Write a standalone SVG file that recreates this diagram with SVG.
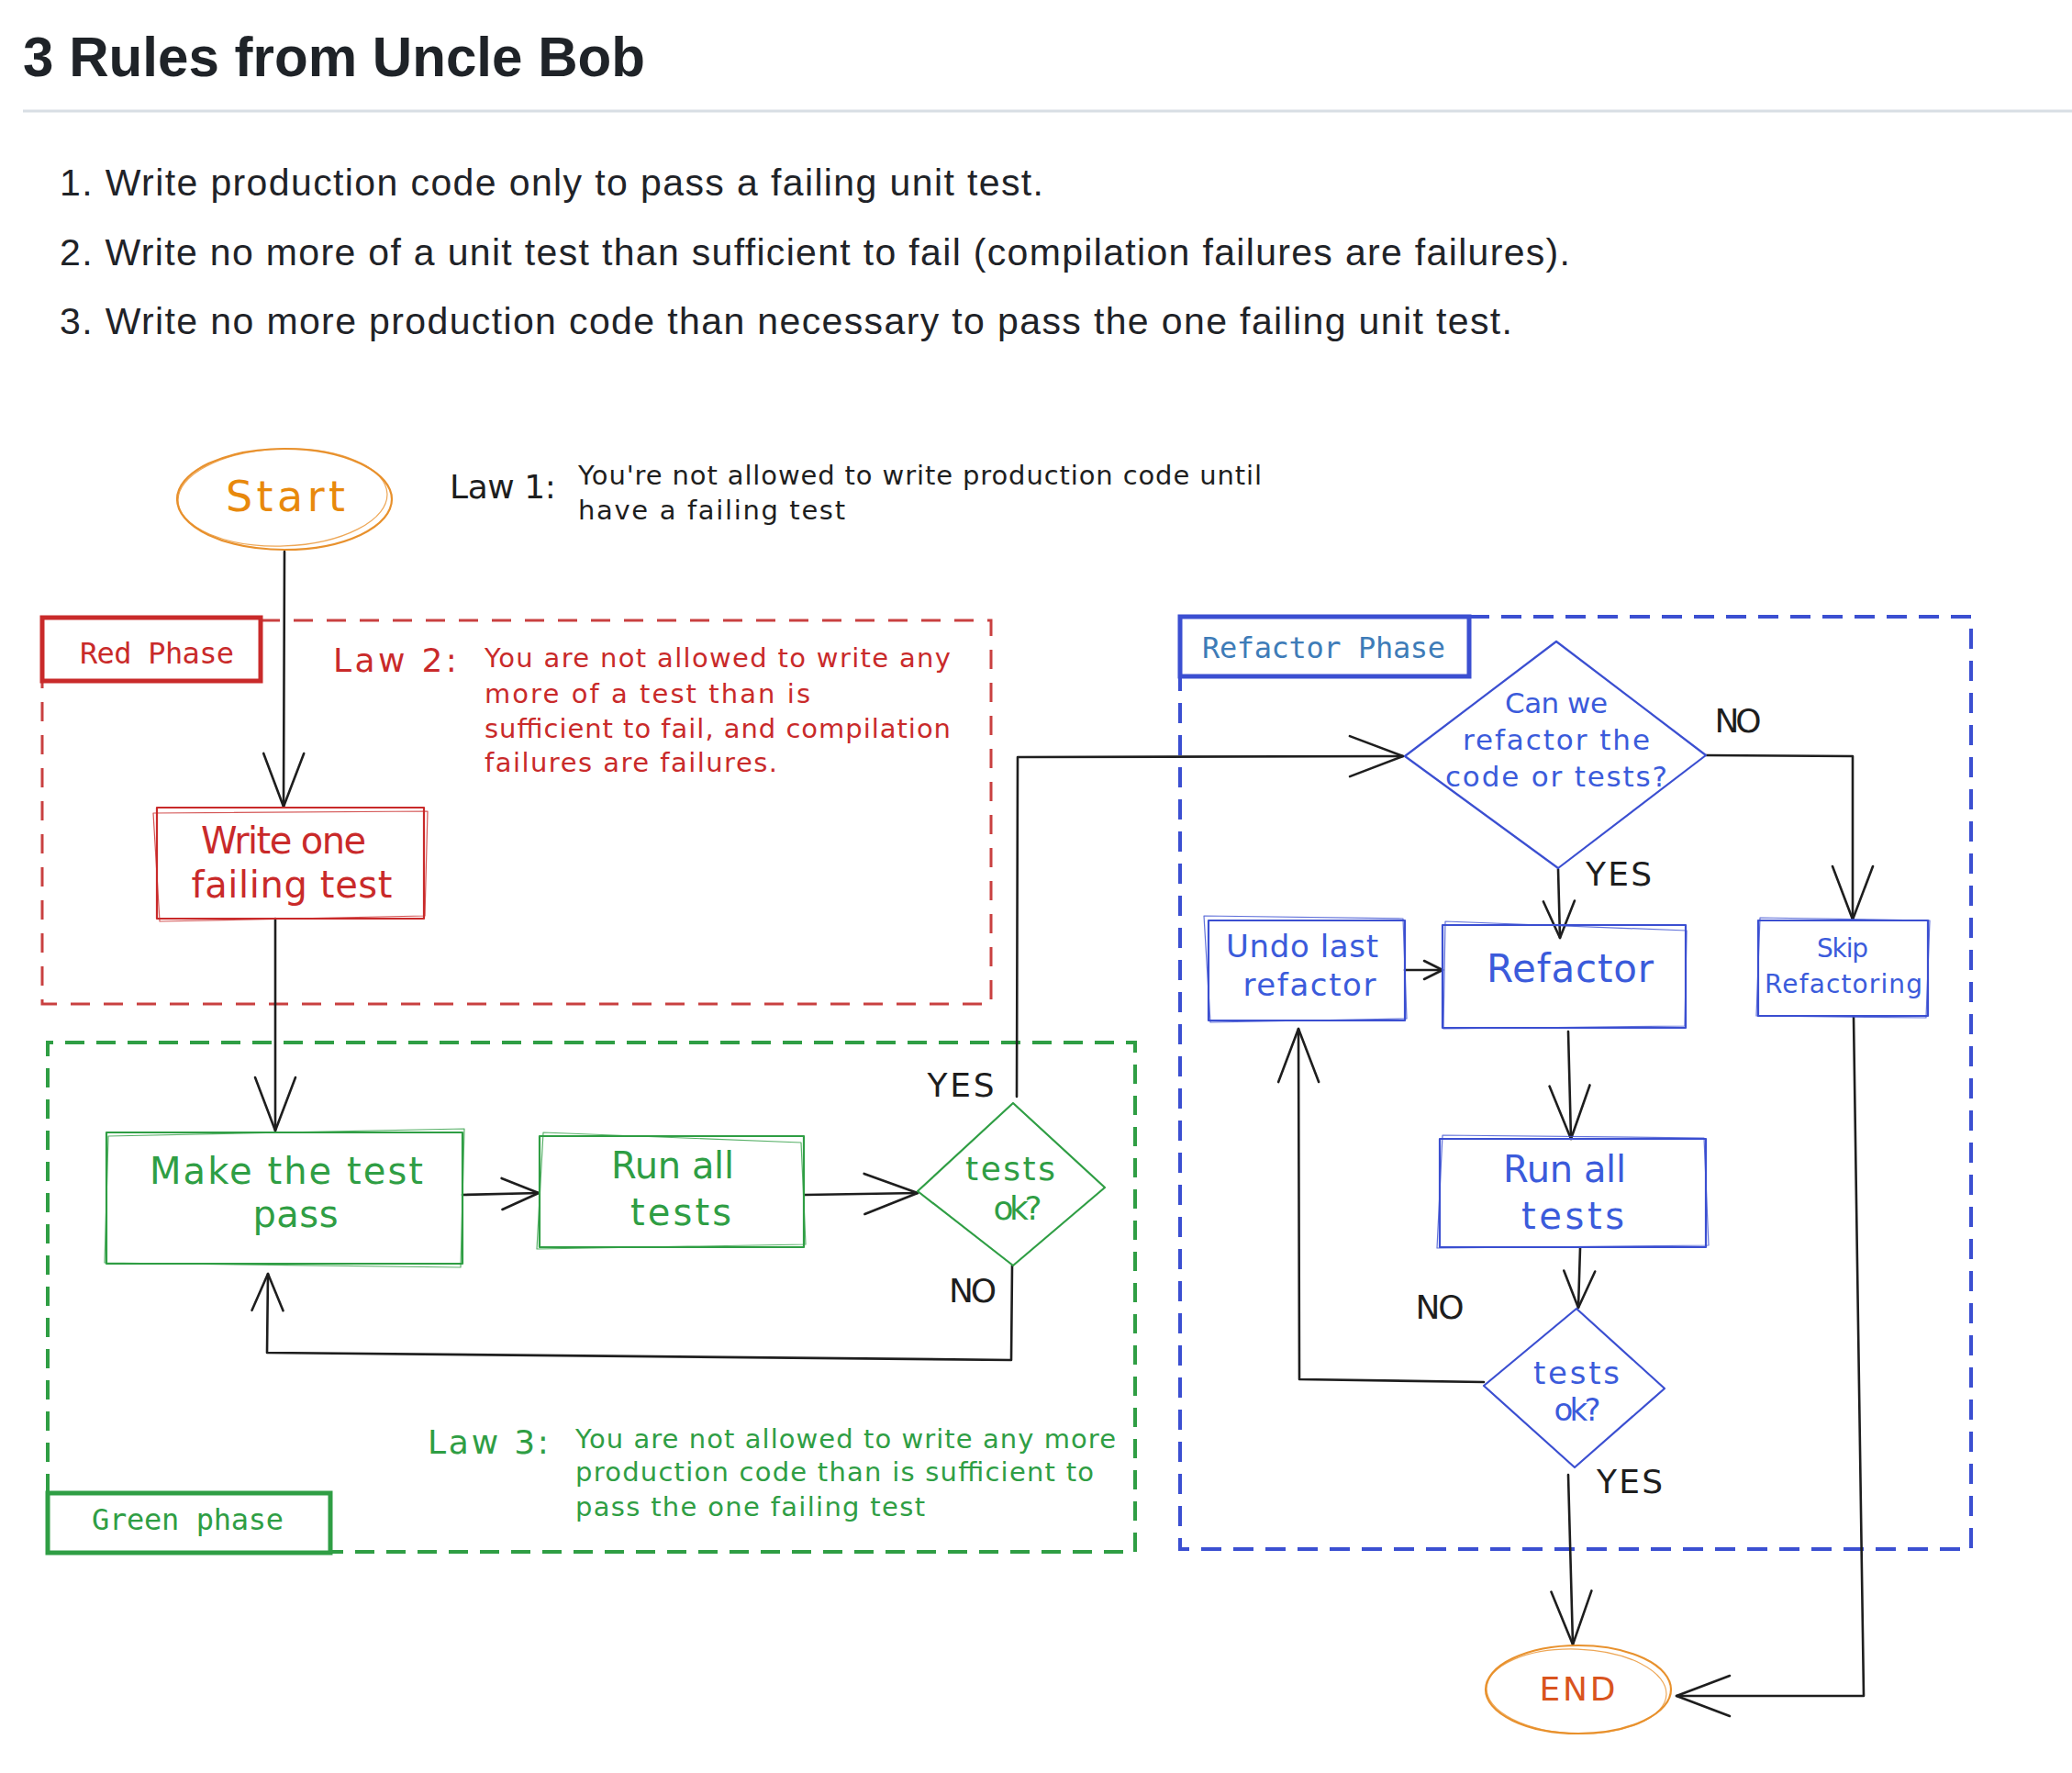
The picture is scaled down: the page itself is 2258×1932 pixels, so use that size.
<svg xmlns="http://www.w3.org/2000/svg" width="2258" height="1932" viewBox="0 0 2258 1932">
<style>
  .hand { font-family: "DejaVu Sans", "Noto Sans", sans-serif; }
  .mono { font-family: "DejaVu Sans Mono", "Liberation Mono", monospace; }
  .doc { font-family: "Liberation Sans", Arial, sans-serif; fill: #1f2328; }
  .ink { fill: #1e1e1e; }
  .red { fill: #c92a2a; }
  .green { fill: #2f9e44; }
  .blue { fill: #3b5bdb; }
  .steel { fill: #3e7cb8; }
  .mid { text-anchor: middle; }
  .sk-red { fill: none; stroke: #c92a2a; stroke-width: 2.2; stroke-linejoin: round; }
  .sk-green { fill: none; stroke: #2f9e44; stroke-width: 2.2; stroke-linejoin: round; }
  .sk-blue { fill: none; stroke: #3b4fd1; stroke-width: 2.2; stroke-linejoin: round; }
  .sk-orange { fill: none; stroke: #e8912d; stroke-width: 2.2; }
  .thin { stroke-width: 1.2; opacity: 0.8; }
  .lbl-red { fill: none; stroke: #c92a2a; stroke-width: 5; }
  .lbl-green { fill: none; stroke: #2f9e44; stroke-width: 5; }
  .lbl-blue { fill: none; stroke: #3b4fd1; stroke-width: 5; }
  .dash-red { fill: none; stroke: #c94040; stroke-width: 3; stroke-dasharray: 21 15; }
  .dash-green { fill: none; stroke: #2f9e44; stroke-width: 4; stroke-dasharray: 21 13; }
  .dash-blue { fill: none; stroke: #3b4fd1; stroke-width: 4; stroke-dasharray: 22 13; }
  .conn { fill: none; stroke: #1e1e1e; stroke-width: 2.6; stroke-linejoin: round; stroke-linecap: round; }
</style>
<defs>
  <marker id="ah-l" viewBox="-62 -26 66 52" refX="0" refY="0" markerWidth="66" markerHeight="52" markerUnits="userSpaceOnUse" orient="auto" overflow="visible">
    <path d="M-58,-22 L0,0 L-58,22" fill="none" stroke="#1e1e1e" stroke-width="2.6" stroke-linecap="round" stroke-linejoin="round"/>
  </marker>
  <marker id="ah-m" viewBox="-44 -20 48 40" refX="0" refY="0" markerWidth="48" markerHeight="40" markerUnits="userSpaceOnUse" orient="auto" overflow="visible">
    <path d="M-40,-17 L0,0 L-40,17" fill="none" stroke="#1e1e1e" stroke-width="2.6" stroke-linecap="round" stroke-linejoin="round"/>
  </marker>
  <marker id="ah-s" viewBox="-24 -12 28 24" refX="0" refY="0" markerWidth="28" markerHeight="24" markerUnits="userSpaceOnUse" orient="auto" overflow="visible">
    <path d="M-20,-10 L0,0 L-20,10" fill="none" stroke="#1e1e1e" stroke-width="2.6" stroke-linecap="round" stroke-linejoin="round"/>
  </marker>
</defs>
<rect x="0" y="0" width="2258" height="1932" fill="#ffffff"/>

<g id="header">
  <text class="doc" x="25" y="83" font-size="62" font-weight="bold" textLength="678" lengthAdjust="spacingAndGlyphs">3 Rules from Uncle Bob</text>
  <line x1="25" y1="121" x2="2258" y2="121" stroke="#d8dee4" stroke-width="3"/>
  <text class="doc" x="65" y="213" font-size="41" textLength="1072">1. Write production code only to pass a failing unit test.</text>
  <text class="doc" x="65" y="289" font-size="41" textLength="1646">2. Write no more of a unit test than sufficient to fail (compilation failures are failures).</text>
  <text class="doc" x="65" y="364" font-size="41" textLength="1583">3. Write no more production code than necessary to pass the one failing unit test.</text>
</g>

<g id="law1">
  <text class="hand ink" x="490" y="543" font-size="36" textLength="116">Law 1:</text>
  <text class="hand ink" x="630" y="528" font-size="29" textLength="745">You're not allowed to write production code until</text>
  <text class="hand ink" x="630" y="566" font-size="29" textLength="291">have a failing test</text>
</g>

<g id="red-phase">
  <path class="dash-red" d="M284,676 L1080,676 L1080,1094 L46,1094 L46,742"/>
  <rect class="lbl-red" x="46" y="673" width="238" height="69"/>
  <text class="mono red" x="87" y="723" font-size="32" textLength="168">Red Phase</text>
  <text class="hand red" x="363" y="732" font-size="36" textLength="135">Law 2:</text>
  <text class="hand red" x="528" y="727" font-size="29" textLength="508">You are not allowed to write any</text>
  <text class="hand red" x="528" y="766" font-size="29" textLength="355">more of a test than is</text>
  <text class="hand red" x="528" y="804" font-size="29" textLength="508">sufficient to fail, and compilation</text>
  <text class="hand red" x="528" y="841" font-size="29" textLength="319">failures are failures.</text>
</g>

<g id="green-phase">
  <path class="dash-green" d="M52,1627 L52,1136 L1237,1136 L1237,1691 L360,1691"/>
  <rect class="lbl-green" x="52" y="1627" width="308" height="65"/>
  <text class="mono green" x="100" y="1667" font-size="32" textLength="209">Green phase</text>
  <text class="hand green" x="466" y="1584" font-size="36" textLength="132">Law 3:</text>
  <text class="hand green" x="627" y="1578" font-size="29" textLength="589">You are not allowed to write any more</text>
  <text class="hand green" x="627" y="1614" font-size="29" textLength="565">production code than is sufficient to</text>
  <text class="hand green" x="627" y="1652" font-size="29" textLength="381">pass the one failing test</text>
</g>

<g id="refactor-phase">
  <path class="dash-blue" d="M1601,672 L2148,672 L2148,1688 L1286,1688 L1286,737"/>
  <rect class="lbl-blue" x="1286" y="672" width="315" height="65"/>
  <text class="mono steel" x="1310" y="717" font-size="32" textLength="265">Refactor Phase</text>
</g>

<g id="connectors">
  <path class="conn" d="M310,601 L309,879" marker-end="url(#ah-l)"/>
  <path class="conn" d="M300,1001 L300,1232" marker-end="url(#ah-l)"/>
  <path class="conn" d="M504,1302 L587,1300" marker-end="url(#ah-m)"/>
  <path class="conn" d="M877,1302 L1000,1300" marker-end="url(#ah-l)"/>
  <path class="conn" d="M1103,1379 L1102,1482 L291,1474 L292,1388" marker-end="url(#ah-m)"/>
  <path class="conn" d="M1108,1195 L1109,825 L1529,824" marker-end="url(#ah-l)"/>
  <path class="conn" d="M1859,823 L2019,824 L2019,1002" marker-end="url(#ah-l)"/>
  <path class="conn" d="M1698,947 L1700,1022" marker-end="url(#ah-m)"/>
  <path class="conn" d="M1531,1057 L1572,1057" marker-end="url(#ah-s)"/>
  <path class="conn" d="M1709,1124 L1712,1241" marker-end="url(#ah-l)"/>
  <path class="conn" d="M1722,1360 L1720,1425" marker-end="url(#ah-m)"/>
  <path class="conn" d="M1617,1506 L1416,1503 L1415,1121" marker-end="url(#ah-l)"/>
  <path class="conn" d="M1709,1607 L1714,1792" marker-end="url(#ah-l)"/>
  <path class="conn" d="M2020,1108 L2031,1848 L1827,1848" marker-end="url(#ah-l)"/>
  <text class="hand ink mid" x="1047" y="1195" font-size="36" textLength="73">YES</text>
  <text class="hand ink mid" x="1060" y="1419" font-size="36" textLength="52">NO</text>
  <text class="hand ink mid" x="1894" y="798" font-size="36" textLength="51">NO</text>
  <text class="hand ink mid" x="1764" y="965" font-size="36" textLength="72">YES</text>
  <text class="hand ink mid" x="1569" y="1437" font-size="36" textLength="53">NO</text>
  <text class="hand ink mid" x="1776" y="1627" font-size="36" textLength="72">YES</text>
</g>

<g id="start">
  <ellipse class="sk-orange" cx="310" cy="544" rx="117" ry="55"/>
  <ellipse class="sk-orange thin" cx="308" cy="542" rx="114" ry="53" transform="rotate(-2 308 542)"/>
  <text class="hand mid" x="311" y="557" font-size="46" fill="#e8890c" textLength="130">Start</text>
</g>

<g id="write-failing-test">
  <rect class="sk-red" x="171" y="880" width="291" height="121"/>
  <path class="sk-red thin" d="M167,886 L466,884 L463,998 L174,1004 Z"/>
  <text class="hand red mid" x="309" y="930" font-size="40" textLength="180">Write one</text>
  <text class="hand red mid" x="318" y="978" font-size="40" textLength="219">failing test</text>
</g>

<g id="make-test-pass">
  <rect class="sk-green" x="116" y="1234" width="388" height="143"/>
  <path class="sk-green thin" d="M118,1238 L506,1230 L502,1381 L114,1376 Z"/>
  <text class="hand green mid" x="312" y="1290" font-size="40" textLength="298">Make the test</text>
  <text class="hand green mid" x="322" y="1337" font-size="40" textLength="93">pass</text>
</g>

<g id="run-all-tests-green">
  <rect class="sk-green" x="588" y="1238" width="288" height="121"/>
  <path class="sk-green thin" d="M592,1234 L873,1245 L878,1356 L585,1361 Z"/>
  <text class="hand green mid" x="733" y="1284" font-size="40" textLength="134">Run all</text>
  <text class="hand green mid" x="742" y="1335" font-size="40" textLength="110">tests</text>
</g>

<g id="tests-ok-green">
  <path class="sk-green" d="M1104,1202 L1204,1294 L1104,1379 L1000,1298 Z"/>
  <text class="hand green mid" x="1101" y="1286" font-size="36" textLength="98">tests</text>
  <text class="hand green mid" x="1109" y="1329" font-size="36" textLength="53">ok?</text>
</g>

<g id="can-we-refactor">
  <path class="sk-blue" d="M1696,699 L1859,823 L1698,946 L1531,824 Z"/>
  <text class="hand blue mid" x="1696" y="777" font-size="31" textLength="112">Can we</text>
  <text class="hand blue mid" x="1696" y="817" font-size="31" textLength="204">refactor the</text>
  <text class="hand blue mid" x="1696" y="857" font-size="31" textLength="242">code or tests?</text>
</g>

<g id="undo-last-refactor">
  <rect class="sk-blue" x="1317" y="1003" width="214" height="109"/>
  <path class="sk-blue thin" d="M1312,998 L1529,1001 L1533,1110 L1319,1114 Z"/>
  <text class="hand blue mid" x="1419" y="1043" font-size="34" textLength="166">Undo last</text>
  <text class="hand blue mid" x="1427" y="1085" font-size="34" textLength="145">refactor</text>
</g>

<g id="refactor">
  <rect class="sk-blue" x="1572" y="1008" width="265" height="112"/>
  <path class="sk-blue thin" d="M1575,1004 L1838,1014 L1836,1118 L1573,1121 Z"/>
  <text class="hand blue mid" x="1711" y="1070" font-size="42" textLength="182">Refactor</text>
</g>

<g id="skip-refactoring">
  <rect class="sk-blue" x="1916" y="1003" width="185" height="104"/>
  <path class="sk-blue thin" d="M1918,1000 L2103,1003 L2099,1109 L1914,1107 Z"/>
  <text class="hand blue mid" x="2008" y="1043" font-size="28" textLength="56">Skip</text>
  <text class="hand blue mid" x="2009" y="1082" font-size="28" textLength="172">Refactoring</text>
</g>

<g id="run-all-tests-blue">
  <rect class="sk-blue" x="1569" y="1241" width="290" height="118"/>
  <path class="sk-blue thin" d="M1572,1237 L1857,1240 L1862,1357 L1566,1360 Z"/>
  <text class="hand blue mid" x="1705" y="1288" font-size="40" textLength="134">Run all</text>
  <text class="hand blue mid" x="1714" y="1339" font-size="40" textLength="112">tests</text>
</g>

<g id="tests-ok-blue">
  <path class="sk-blue" d="M1718,1426 L1814,1513 L1716,1599 L1617,1510 Z"/>
  <text class="hand blue mid" x="1718" y="1508" font-size="34" textLength="94">tests</text>
  <text class="hand blue mid" x="1719" y="1548" font-size="34" textLength="51">ok?</text>
</g>

<g id="end">
  <ellipse class="sk-orange" cx="1720" cy="1841" rx="101" ry="48"/>
  <ellipse class="sk-orange thin" cx="1718" cy="1843" rx="98" ry="46" transform="rotate(2 1718 1843)"/>
  <text class="hand mid" x="1719" y="1853" font-size="36" fill="#d9541e" textLength="83">END</text>
</g>
</svg>
